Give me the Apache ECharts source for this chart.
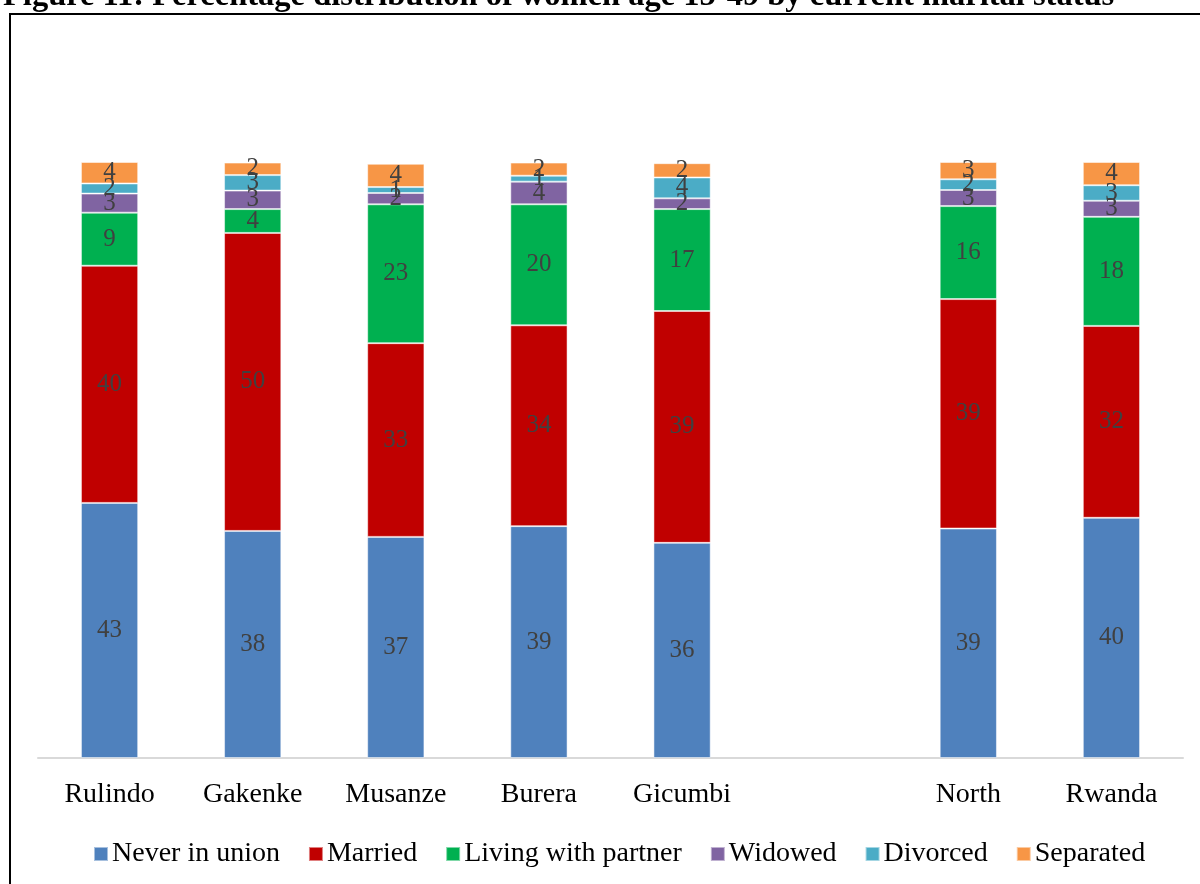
<!DOCTYPE html>
<html>
<head>
<meta charset="utf-8">
<script src="https://cdn.jsdelivr.net/npm/echarts@6/dist/echarts.min.js"></script>
<style>
  html, body { margin: 0; padding: 0; background: #fff; }
  #chart { width: 1200px; height: 884px; }
</style>
</head>
<body>
<div id="chart"></div>
<script>
// districts, with an empty slot before the totals
var categories = ['Rulindo', 'Gakenke', 'Musanze', 'Burera', 'Gicumbi', '', 'North', 'Rwanda']

var neverInUnion = [42.8, 38.1, 37.1, 38.9, 36.1, '-', 38.5, 40.3]
var married = [39.8, 50.0, 32.5, 33.7, 38.9, '-', 38.5, 32.2]
var livingWithPartner = [8.9, 4.0, 23.3, 20.3, 17.1, '-', 15.6, 18.3]
var widowed = [3.2, 3.1, 1.9, 3.8, 1.8, '-', 2.7, 2.7]
var divorced = [1.7, 2.6, 1.0, 1.0, 3.5, '-', 1.8, 2.6]
var separated = [3.6, 2.1, 3.9, 2.2, 2.4, '-', 2.9, 3.9]

var seriesNames = ['Never in union', 'Married', 'Living with partner', 'Widowed', 'Divorced', 'Separated']
var seriesData = [neverInUnion, married, livingWithPartner, widowed, divorced, separated]

var serif = '"Liberation Serif", "Times New Roman", serif'

var chart = echarts.init(document.getElementById('chart'))

chart.setOption({
  color: ['#4f81bd', '#c00000', '#00b050', '#8064a2', '#4bacc6', '#f79646'],
  animation: false,
  graphic: [
    {
      type: 'text',
      left: 3,
      top: -20,
      style: {
        text: 'Figure 11: Percentage distribution of women age 15-49 by current marital status',
        font: 'bold 32.5px ' + serif,
        fill: '#000'
      }
    },
    {
      type: 'rect',
      shape: { x: 10, y: 14, width: 1220, height: 900 },
      style: { fill: 'none', stroke: '#000', lineWidth: 2 }
    }
  ],
  legend: {
    left: 88,
    top: 835,
    itemWidth: 14,
    itemHeight: 14,
    itemGap: 28,
    icon: 'rect',
    textStyle: {
      fontFamily: serif,
      fontSize: 28,
      color: '#000',
      padding: [0, 0, 0, -1]
    },
    data: seriesNames
  },
  grid: {
    left: 38,
    right: 17,
    top: 162,
    bottom: 126
  },
  xAxis: {
    type: 'category',
    data: categories,
    axisLine: {
      lineStyle: { color: '#d9d9d9', width: 2 }
    },
    axisTick: { show: false },
    axisLabel: {
      margin: 23,
      fontFamily: serif,
      fontSize: 28,
      color: '#000'
    }
  },
  yAxis: {
    type: 'value',
    min: 0,
    max: 100,
    show: false,
    splitLine: { show: false }
  },
  series: seriesNames.map(function(name, i) {
    return {
      name: name,
      type: 'bar',
      stack: 'total',
      barWidth: '40%',
      itemStyle: {
        borderColor: 'rgba(255,255,255,0.5)',
        borderWidth: 1
      },
      label: {
        show: true,
        position: 'inside',
        fontFamily: serif,
        fontSize: 25,
        color: '#404040',
        formatter: function(p) {
          return Math.round(p.value)
        }
      },
      data: seriesData[i]
    }
  })
})
</script>
</body>
</html>
